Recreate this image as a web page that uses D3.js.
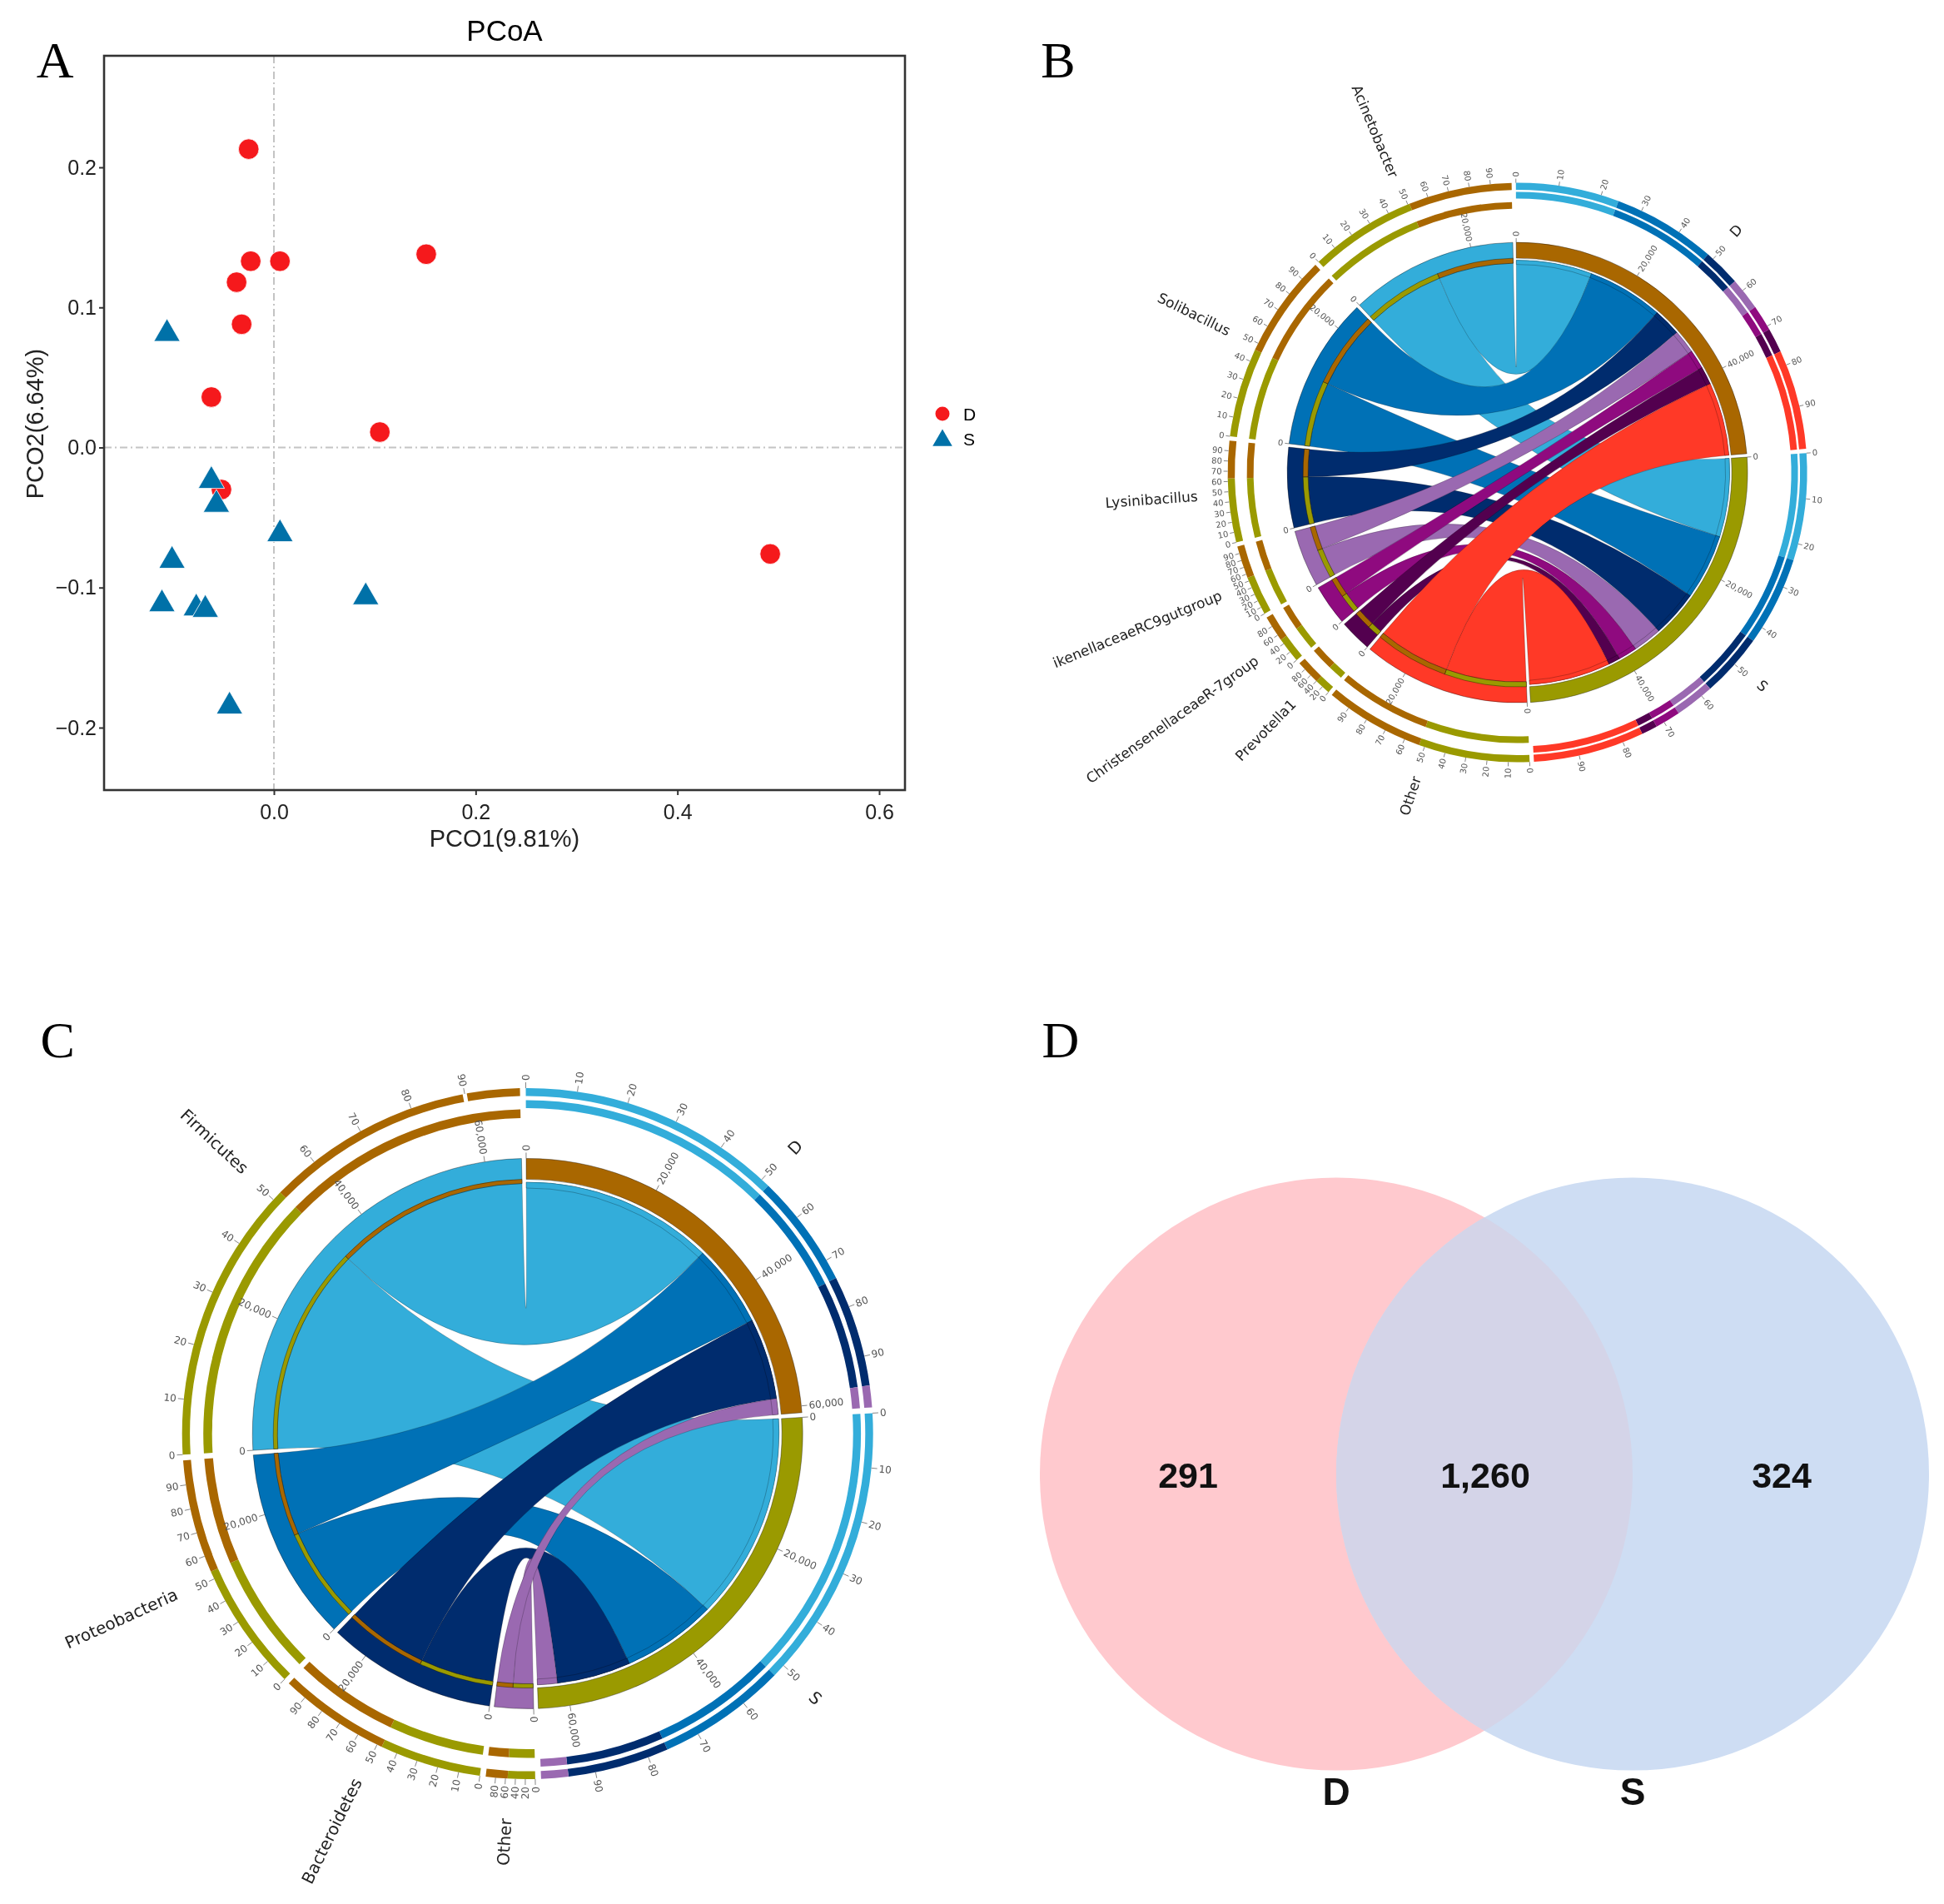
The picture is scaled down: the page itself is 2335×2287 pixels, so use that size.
<!DOCTYPE html>
<html><head><meta charset="utf-8">
<script src="https://cdn.jsdelivr.net/npm/d3@7"></script>
<style>html,body{margin:0;padding:0;background:#fff}svg{display:block;filter:blur(0.6px)}</style></head>
<body><svg id="c" width="2335" height="2287"></svg>
<script>
// ---- Panel A data
const pcoD_x=[-0.025,-0.023,0.006,0.151,-0.037,-0.032,-0.062,0.105,-0.052,0.492];
const pcoD_y=[0.213,0.133,0.133,0.138,0.118,0.088,0.036,0.011,-0.030,-0.076];
const pcoS_x=[-0.106,-0.062,-0.057,0.006,-0.101,-0.111,-0.077,-0.068,0.091,-0.044];
const pcoS_y=[0.083,-0.022,-0.039,-0.060,-0.079,-0.110,-0.113,-0.114,-0.105,-0.183];
const xTicksA=[0,0.2,0.4,0.6];
const yTicksA=[-0.2,-0.1,0,0.1,0.2];
// ---- Panel B data
const generaB=["Acinetobacter","Solibacillus","Lysinibacillus","ikenellaceaeRC9gutgroup","ChristensenellaceaeR-7group","Prevotella1","Other"];
const generaB_D=[13100,13100,4750,4100,3300,3100,12650];
const generaB_S=[13570,11300,8080,4985,3220,2020,14070];
const colorsB=["#33ADDA","#0071B6","#002C6E","#9A69B1","#8F0A7F","#53004F","#FF3927"];
// ---- Panel C data
const phylaC=["Firmicutes","Proteobacteria","Bacteroidetes","Other"];
const phylaC_D=[31560,13540,13300,2600];
const phylaC_S=[33900,15460,12100,3250];
const colorsC=["#33ADDA","#0071B6","#002C6E","#9A69B1"];
const groupColors={D:"#A96700",S:"#9A9A00"};
const groupNames=["D","S"];
// ---- Panel D data
const vennCounts=[291,1260,324];

const svg=d3.select("#c");
const serif="'Liberation Serif',serif", sans="'Liberation Sans',Arial,sans-serif", dj="'DejaVu Sans',sans-serif";

// panel letters
[["A",44.5,50],["B",853.5,50],["C",46.5,840],["D",855.5,840]].forEach(([t,x,y])=>{
  svg.append("text").attr("x",x*1.489).attr("y",y*1.489+19).attr("text-anchor","middle")
    .attr("font-family",serif).attr("font-size",62).attr("fill","#000").text(t);
});

// ---------- Panel A
(function(){
  const L=125,R=1087,T=67,B=949;
  const x=d3.scaleLinear().domain([0,0.6]).range([329,1056]);
  const y=d3.scaleLinear().domain([0,0.2]).range([537.5,201]);
  const g=svg.append("g");
  g.append("line").attr("x1",x(0)).attr("x2",x(0)).attr("y1",T).attr("y2",B).attr("stroke","#c4c4c4").attr("stroke-width",2).attr("stroke-dasharray","9 4 2 4");
  g.append("line").attr("x1",L).attr("x2",R).attr("y1",y(0)).attr("y2",y(0)).attr("stroke","#c4c4c4").attr("stroke-width",2).attr("stroke-dasharray","9 4 2 4");
  const ax=g.append("g").attr("transform",`translate(0,${B})`).call(d3.axisBottom(x).tickValues(xTicksA).tickFormat(d3.format(".1f")).tickSize(6).tickSizeOuter(0));
  const ay=g.append("g").attr("transform",`translate(${L},0)`).call(d3.axisLeft(y).tickValues(yTicksA).tickFormat(d=>d3.format(".1f")(d).replace("-","−")).tickSize(6).tickSizeOuter(0));
  [ax,ay].forEach(a=>{a.select(".domain").remove();a.selectAll("line").attr("stroke","#333").attr("stroke-width",2);
    a.selectAll("text").attr("font-family",sans).attr("font-size",25).attr("fill","#222");});
  ax.selectAll("text").attr("dy","1.05em");
  g.append("rect").attr("x",L).attr("y",T).attr("width",R-L).attr("height",B-T).attr("fill","none").attr("stroke","#333").attr("stroke-width",2.6);
  const D=pcoD_x.map((v,i)=>[v,pcoD_y[i]]), S=pcoS_x.map((v,i)=>[v,pcoS_y[i]]);
  g.selectAll(".d").data(D).join("circle").attr("cx",d=>x(d[0])).attr("cy",d=>y(d[1])).attr("r",12.3).attr("fill","#F5191C").attr("stroke","#fff").attr("stroke-width",.8);
  const tri=d3.symbol().type(d3.symbolTriangle).size(430);
  g.selectAll(".s").data(S).join("path").attr("d",tri).attr("transform",d=>`translate(${x(d[0])},${y(d[1])+3})`).attr("fill","#0071A8").attr("stroke","#fff").attr("stroke-width",.8);
  g.append("text").attr("x",606).attr("y",49).attr("text-anchor","middle").attr("font-family",sans).attr("font-size",35).text("PCoA");
  g.append("text").attr("x",606).attr("y",1017).attr("text-anchor","middle").attr("font-family",sans).attr("font-size",29).attr("fill","#222").text("PCO1(9.81%)");
  g.append("text").attr("transform","translate(52,509) rotate(-90)").attr("text-anchor","middle").attr("font-family",sans).attr("font-size",29).attr("fill","#222").text("PCO2(6.64%)");
  g.append("circle").attr("cx",1132).attr("cy",497).attr("r",8.5).attr("fill","#F5191C");
  g.append("path").attr("d",d3.symbol().type(d3.symbolTriangle).size(240)).attr("transform","translate(1132,529)").attr("fill","#0071A8");
  g.append("text").attr("x",1157).attr("y",505).attr("font-family",sans).attr("font-size",21).text("D");
  g.append("text").attr("x",1157).attr("y",535).attr("font-family",sans).attr("font-size",21).text("S");
})();

// ---------- Circos-like panels
function circos(cfg){
  const {cx,cy,names,dv,sv,colors,rBand,rBandIn,rRib,rRibL,rHair,rO1,rO0,rI1R,rI0R,rI1L,rI0L,rLabel,fsLabel,fsTick,labelOff,startDeg,gapDeg,labelTurn,nick}=cfg;
  const rad=Math.PI/180;
  const g=svg.append("g").attr("transform",`translate(${cx},${cy})`);
  const totD=d3.sum(dv), totS=d3.sum(sv), total=totD+totS;
  const n=names.length, segCount=n+2;
  const deg=d3.scaleLinear().domain([0,2*total]).range([0,360-gapDeg*segCount]);
  let a=startDeg; const segs=[]; const ribbons=[];
  function addGroup(name,vals){
    const seg={name,start:a,value:d3.sum(vals),own:groupColors[name],parts:[]};
    let c=a;
    vals.forEach((v,i)=>{const e=c+deg(v);seg.parts.push({a0:c,a1:e,color:colors[i],i});c=e;});
    seg.end=c;a=c+gapDeg;segs.push(seg);
    return seg;
  }
  const sD=addGroup("D",dv),sS=addGroup("S",sv);
  for(let i=n-1;i>=0;i--){
    const v0=sv[i],v1=dv[i];
    const e0=a+deg(v0),e1=e0+deg(v1);
    const seg={name:names[i],start:a,end:e1,value:v0+v1,own:colors[i],genus:true,
      parts:[{a0:a,a1:e0,color:groupColors.S},{a0:e0,a1:e1,color:groupColors.D}],i};
    segs.push(seg);
    ribbons[i]=[{src:seg.parts[0],tgt:sS.parts[i],c:colors[i]},{src:seg.parts[1],tgt:sD.parts[i],c:colors[i]}];
    a=e1+gapDeg;
  }
  const arc=d3.arc();
  const A=(r0,r1,a0,a1)=>arc({innerRadius:r0,outerRadius:r1,startAngle:a0*rad,endAngle:a1*rad});
  g.selectAll(".band").data(segs).join("path").attr("d",s=>A(s.genus?rRibL:rBandIn,rBand,s.start,s.end)).attr("fill",s=>s.own).attr("stroke","#000").attr("stroke-opacity",.45).attr("stroke-width",.8);
  const rib=d3.ribbon().radius(d=>d.radius).startAngle(d=>d.startAngle).endAngle(d=>d.endAngle);
  const flat=ribbons.flat();
  g.selectAll(".rib").data(flat).join("path").attr("d",d=>rib({
      source:{startAngle:d.tgt.a0*rad,endAngle:d.tgt.a1*rad,radius:rRib},
      target:{startAngle:d.src.a0*rad,endAngle:d.src.a1*rad,radius:rRibL}}))
    .attr("fill",d=>d.c).attr("stroke","#000").attr("stroke-opacity",.3).attr("stroke-width",.7);
  [sD,sS].forEach(s=>s.parts.forEach(p=>{
    g.append("path").attr("d",A(rHair,rRib,p.a0,p.a1)).attr("fill",p.color).attr("stroke","#000").attr("stroke-opacity",.35).attr("stroke-width",.7);
  }));
  segs.filter(s=>s.genus).forEach(s=>s.parts.forEach(p=>{
    g.append("path").attr("d",A(rRibL,rBandIn,p.a0,p.a1)).attr("fill",p.color).attr("stroke","#000").attr("stroke-opacity",.5).attr("stroke-width",.7);
  }));
  segs.forEach(s=>{
    const inner=s.genus?[rI0L,rI1L]:[rI0R,rI1R];
    s.parts.forEach(p=>{
      g.append("path").attr("d",A(rO0,rO1,p.a0,p.a1)).attr("fill",p.color);
      g.append("path").attr("d",A(inner[0],inner[1],p.a0,p.a1)).attr("fill",p.color);
    });
  });
  if(nick){
    const s=segs.find(q=>q.name===nick.name);
    const t=s.start+(s.end-s.start)*nick.pct/100;
    g.append("path").attr("d",A(rO0-1,rO1+1,t-.35,t+.35)).attr("fill","#fff");
  }
  function radial(theta,r,txt,fs,col){
    const left=theta>=180;
    const x=r*Math.sin(theta*rad),y=-r*Math.cos(theta*rad);
    const rot=left?theta+90:theta-90;
    return g.append("text").attr("transform",`translate(${x},${y}) rotate(${rot})`)
      .attr("text-anchor",left?"end":"start").attr("dy",".35em")
      .attr("font-family",dj).attr("font-size",fs).attr("fill",col).text(txt);
  }
  function tick(theta,r0,r1){
    g.append("line").attr("x1",r0*Math.sin(theta*rad)).attr("y1",-r0*Math.cos(theta*rad))
      .attr("x2",r1*Math.sin(theta*rad)).attr("y2",-r1*Math.cos(theta*rad)).attr("stroke","#777").attr("stroke-width",.9);
  }
  segs.forEach(s=>{
    d3.range(0,s.value,20000).forEach(v=>{
      const t=s.start+deg(v);
      tick(t,rBand,rBand+labelOff-2);
      radial(t,rBand+labelOff,d3.format(",")(v),fsTick,"#555");
    });
  });
  segs.forEach(s=>{
    const span=s.end-s.start, step=span<12?20:10;
    d3.range(0,100,step).forEach(p=>{
      const t=s.start+span*p/100;
      tick(t,rO1,rO1+labelOff-2);
      radial(t,rO1+labelOff,String(p),fsTick,"#555");
    });
  });
  segs.forEach(s=>{ radial((s.start+s.end)/2+labelTurn,rLabel,s.name,fsLabel,"#222"); });
}
circos({cx:1822.6,cy:567.6,names:generaB,dv:generaB_D,sv:generaB_S,colors:colorsB,
  rBand:276.5,rBandIn:257.5,rRib:255,rRibL:251.5,rHair:250,rO1:348,rO0:339.5,rI1R:337,rI0R:329,rI1L:325,rI0L:317,
  rLabel:385,fsLabel:17,fsTick:10,labelOff:7,startDeg:-.3,gapDeg:.85,labelTurn:-.4});
circos({cx:633.7,cy:1722,names:phylaC,dv:phylaC_D,sv:phylaC_S,colors:colorsC,
  rBand:330.5,rBandIn:305.5,rRib:302,rRibL:300.5,rHair:295,rO1:415,rO0:405.6,rI1R:400.4,rI0R:391,rI1L:389.5,rI0L:379,
  rLabel:463,fsLabel:20,fsTick:12,labelOff:9,startDeg:-.3,gapDeg:.97,labelTurn:.4,nick:{name:"Firmicutes",pct:90}});

// ---------- Panel D Venn
(function(){
  const x=d3.scaleOrdinal().domain(["D","S"]).range([1605,1961]);
  const g=svg.append("g");
  svg.append("clipPath").attr("id","lens").append("circle").attr("cx",x("D")).attr("cy",1770.6).attr("r",356);
  g.append("circle").attr("cx",x("D")).attr("cy",1770.6).attr("r",356).attr("fill","#FFC9CE");
  g.append("circle").attr("cx",x("S")).attr("cy",1770.6).attr("r",356).attr("fill","#CEDDF3");
  g.append("circle").attr("cx",x("S")).attr("cy",1770.6).attr("r",356).attr("fill","#D4D4E8").attr("clip-path","url(#lens)");
  const tx=[1427,1784,2140];
  vennCounts.forEach((v,i)=>g.append("text").attr("x",tx[i]).attr("y",1787).attr("text-anchor","middle").attr("font-family",sans).attr("font-weight","bold").attr("font-size",43).attr("fill","#111").text(d3.format(",")(v)));
  groupNames.forEach(n=>g.append("text").attr("x",x(n)).attr("y",2168).attr("text-anchor","middle").attr("font-family",sans).attr("font-weight","bold").attr("font-size",46).attr("fill","#111").text(n));
})();
</script></body></html>
